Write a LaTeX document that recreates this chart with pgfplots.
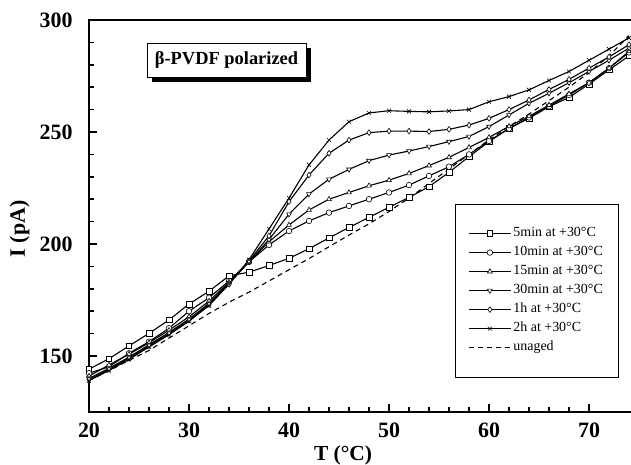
\documentclass[border=0pt]{standalone}
\usepackage{fontspec}
\setmainfont{Liberation Serif}
\usepackage{pgfplots}
\pgfplotsset{compat=1.18}
\usetikzlibrary{shadows}

\pgfplotstableread{
T    m5     m10    m15    m30    h1     h2     un
20   144.1  142.3  141.0  140.0  139.5  139.0  139.0
22   148.8  145.2  146.0  144.5  144.0  143.5  143.5
24   154.5  151.2  150.8  149.5  149.0  148.5  148.0
26   160.1  156.4  155.9  155.0  154.5  154.0  152.5
28   166.1  162.4  161.5  160.5  160.0  159.5  158.0
30   173.2  170.0  167.5  166.5  166.0  165.5  163.5
32   178.9  176.0  174.5  173.5  173.0  172.5  169.0
34   185.8  183.5  183.0  182.5  182.0  182.0  174.0
36   187.4  192.0  192.0  192.0  192.5  193.0  178.5
38   190.4  199.6  201.0  202.0  203.6  206.7  183.5
40   193.6  205.8  208.5  213.3  218.9  220.5  188.5
42   197.9  210.3  215.2  222.3  230.8  235.3  193.5
44   202.7  214.0  220.0  228.9  240.5  246.4  198.8
46   207.4  217.0  223.0  233.3  246.4  254.6  204.0
48   211.9  220.0  226.0  237.2  249.7  258.5  209.0
50   216.4  223.0  228.5  239.7  250.4  259.5  214.5
52   220.8  226.3  231.5  241.5  250.4  259.2  220.5
54   225.6  230.4  235.0  243.5  250.2  259.0  227.0
56   232.0  234.5  238.7  245.7  251.2  259.4  233.5
58   239.0  240.0  243.1  248.0  253.1  260.0  240.0
60   245.7  246.0  247.6  252.4  256.1  263.5  246.5
62   251.6  251.5  252.5  257.6  260.0  265.8  252.5
64   256.1  256.5  257.0  262.8  264.3  268.8  258.0
66   261.3  261.5  262.0  267.3  269.0  273.0  264.0
68   265.4  266.5  267.0  272.0  273.5  277.0  270.0
70   271.4  272.0  272.0  277.0  278.5  282.0  276.5
72   277.7  278.5  278.5  282.0  283.5  287.0  284.0
74   284.0  285.5  286.0  287.5  289.0  292.0  293.0
}\data

\begin{document}
\begin{tikzpicture}
\begin{axis}[
  at={(0,0)}, anchor=south west,
  scale only axis, width=545bp, height=392bp,
  xmin=20, xmax=74.5, ymin=125, ymax=300,
  xtick={20,30,...,70}, ytick={150,200,250,300},
  minor x tick num=4, minor y tick num=4,
  tick pos=left, tick align=inside,
  major tick length=8bp, minor tick length=5bp,
  every tick/.style={black, line width=1.6bp},
  axis line style={line width=2.8bp},
  /pgf/number format/assume math mode=true,
  ticklabel style={font=\fontsize{22}{24}\selectfont\bfseries},
  xticklabel style={yshift=-7bp},
  yticklabel style={xshift=-13bp},
  xlabel={T (°C)},
  ylabel={I (pA)},
  xlabel style={font=\fontsize{21.5}{24}\selectfont\bfseries, at={(axis description cs:0.466,0)}, anchor=north, yshift=-30bp},
  ylabel style={font=\fontsize{22}{24}\selectfont\bfseries, at={(axis description cs:0,0.467)}, anchor=south, yshift=56bp},
  legend style={at={(0.6716,0.5306)}, anchor=north west, draw=black, line width=0.6bp,
    font=\fontsize{14}{15}\selectfont, inner xsep=13bp, inner ysep=21bp,
    nodes={text height=9.5bp, text depth=3bp, inner sep=2bp}, row sep=2.5bp},
  legend cell align=left,
  legend image code/.code={\draw[mark repeat=2,mark phase=2,#1] plot coordinates {(0bp,0bp) (21bp,0bp) (42bp,0bp)};},
  every axis plot/.append style={black, line width=1.1bp, mark size=2.8bp, mark options={fill=white, line width=0.6bp, solid}},
]
\addplot[mark=square*] table[x=T, y=m5] {\data};
\addlegendentry{5min at +30°C}
\addplot[mark=*] table[x=T, y=m10] {\data};
\addlegendentry{10min at +30°C}
\addplot[mark=triangle*] table[x=T, y=m15] {\data};
\addlegendentry{15min at +30°C}
\addplot[mark=triangle*, mark options={rotate=180, fill=white, line width=0.6bp, solid}] table[x=T, y=m30] {\data};
\addlegendentry{30min at +30°C}
\addplot[mark=diamond*] table[x=T, y=h1] {\data};
\addlegendentry{1h at +30°C}
\addplot[mark=x] table[x=T, y=h2] {\data};
\addlegendentry{2h at +30°C}
\addplot[dashed, dash pattern=on 5bp off 4bp, no markers] table[x=T, y=un] {\data};
\addlegendentry{unaged}
\node[draw, fill=white, line width=0.8bp, minimum width=159bp, minimum height=34bp, inner sep=2bp,
  drop shadow={shadow xshift=5bp, shadow yshift=-5bp, fill=black, opacity=1},
  font=\fontsize{18.5}{20}\selectfont\bfseries] at (axis cs:33.75,282.1) {β-PVDF polarized};
\end{axis}
\pgfresetboundingbox
\path (-89bp,-53bp) rectangle (542bp,412bp);
\end{tikzpicture}
\end{document}
